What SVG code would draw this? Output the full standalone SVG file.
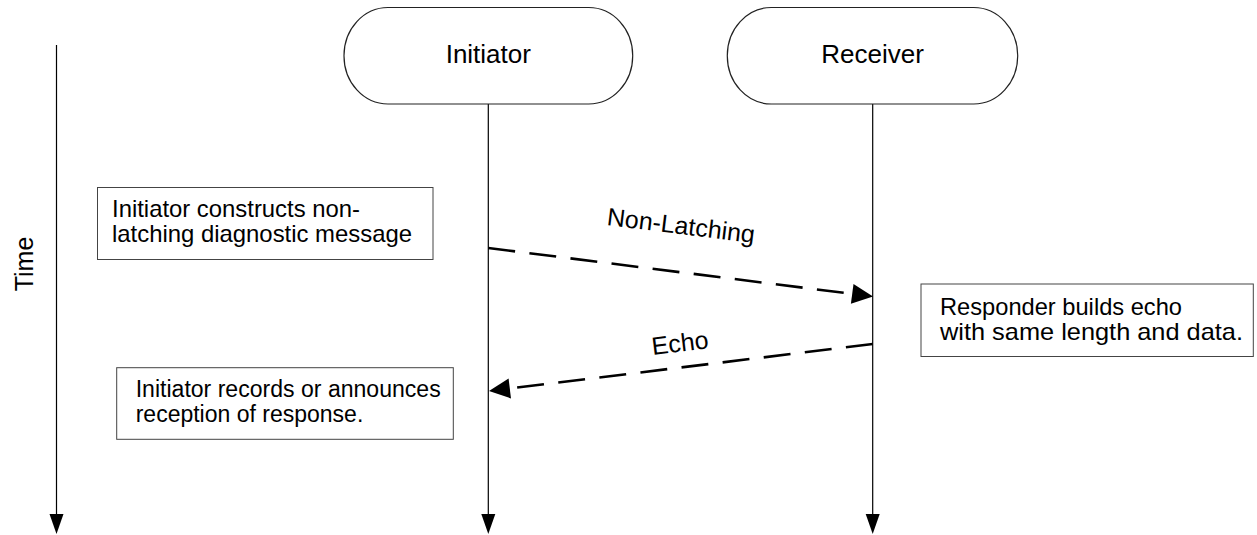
<svg xmlns="http://www.w3.org/2000/svg" width="1257" height="535" viewBox="0 0 1257 535">
<style>
  text { font-family: "Liberation Sans", Arial, sans-serif; fill: #000; }
  .pill { fill: #fff; stroke: #222; stroke-width: 1.2; }
  .box { fill: #fff; stroke: #444; stroke-width: 1; }
  .title { font-size: 26px; text-anchor: middle; }
  .note { font-size: 24px; }
  .note3 { font-size: 23px; }
  .label { font-size: 25px; text-anchor: middle; }
  .life { stroke: #000; stroke-width: 1.2; fill: none; }
  .msg { stroke: #000; stroke-width: 2.6; fill: none; stroke-dasharray: 27 14.4; }
  .head { fill: #000; stroke: none; }
</style>
<rect x="0" y="0" width="1257" height="535" fill="#fff"/>

<g id="time-axis">
  <line class="life" x1="56.5" y1="45" x2="56.5" y2="515"/>
  <polygon class="head" points="49.5,514 63.5,514 56.5,534"/>
  <text class="label" transform="translate(32.5,264) rotate(-90)">Time</text>
</g>

<g id="connectors">
  <line class="life" x1="488.3" y1="104" x2="488.3" y2="515"/>
  <polygon class="head" points="481.3,514 495.3,514 488.3,534"/>
  <line class="life" x1="872.7" y1="104" x2="872.7" y2="515"/>
  <polygon class="head" points="865.7,514 879.7,514 872.7,534"/>

  <line class="msg" x1="488.3" y1="248" x2="853" y2="294"/>
  <polygon class="head" points="873,296.5 850.9,303.8 853.5,284"/>
  <text class="label" transform="translate(680,234) rotate(7)">Non-Latching</text>

  <line class="msg" x1="872.7" y1="344" x2="509" y2="388.5"/>
  <polygon class="head" points="489,391 511,398.4 508.6,378.5"/>
  <text class="label" transform="translate(681,351.5) rotate(-7)">Echo</text>
</g>

<g id="initiator">
  <rect class="pill" x="344" y="7.5" width="288.7" height="96.5" rx="44" ry="48"/>
  <text class="title" x="488.3" y="63.3">Initiator</text>
</g>

<g id="receiver">
  <rect class="pill" x="727.3" y="7.5" width="290.4" height="96.5" rx="44" ry="48"/>
  <text class="title" x="872.5" y="63.3">Receiver</text>
</g>

<g id="note-construct">
  <rect class="box" x="97.5" y="187.5" width="335.5" height="72"/>
  <text class="note" x="112" y="217" textLength="248" lengthAdjust="spacingAndGlyphs">Initiator constructs non-</text>
  <text class="note" x="112" y="242" textLength="300" lengthAdjust="spacingAndGlyphs">latching diagnostic message</text>
</g>

<g id="note-responder">
  <rect class="box" x="921" y="284" width="332.3" height="72.5"/>
  <text class="note" x="940" y="315" textLength="242" lengthAdjust="spacingAndGlyphs">Responder builds echo</text>
  <text class="note" x="940" y="340" textLength="303" lengthAdjust="spacingAndGlyphs">with same length and data.</text>
</g>

<g id="note-records">
  <rect class="box" x="116.7" y="367.7" width="336.6" height="71.6"/>
  <text class="note3" x="135.7" y="396.7" textLength="305" lengthAdjust="spacingAndGlyphs">Initiator records or announces</text>
  <text class="note3" x="135.7" y="422" textLength="227.6" lengthAdjust="spacingAndGlyphs">reception of response.</text>
</g>
</svg>
